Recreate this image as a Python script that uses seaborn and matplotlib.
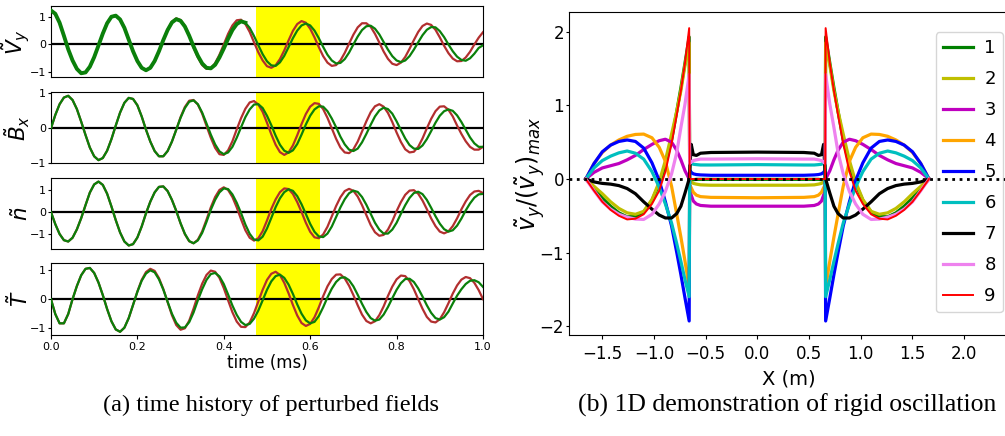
import numpy as np
import matplotlib
matplotlib.use("Agg")
import matplotlib.pyplot as plt
import seaborn as sns

# ---- (a) time history, sampled every 0.01 ms ----
time_ms = np.linspace(0.0, 1.0, 101)

vy_red = [1.25, 1.13, 0.80, 0.32, -0.18, -0.59, -0.91, -1.07, -1.04, -0.83,
          -0.47, -0.04, 0.41, 0.79, 1.03, 1.07, 0.93, 0.62, 0.18, -0.25,
          -0.62, -0.87, -0.96, -0.87, -0.62, -0.25, 0.16, 0.55, 0.84, 0.96,
          0.90, 0.68, 0.33, -0.12, -0.48, -0.76, -0.90, -0.88, -0.69, -0.38,
          0.00, 0.39, 0.70, 0.89, 0.91, 0.75, 0.46, 0.08, -0.29, -0.59,
          -0.80, -0.86, -0.77, -0.54, -0.22, 0.15, 0.50, 0.75, 0.86, 0.80,
          0.58, 0.26, -0.10, -0.43, -0.67, -0.79, -0.76, -0.59, -0.31, 0.03,
          0.36, 0.63, 0.78, 0.78, 0.65, 0.39, 0.07, -0.26, -0.53, -0.71,
          -0.76, -0.67, -0.46, -0.16, 0.16, 0.46, 0.68, 0.77, 0.72, 0.54,
          0.26, -0.05, -0.32, -0.52, -0.62, -0.61, -0.48, -0.27, 0.00, 0.25,
          0.45]
vy_green = [1.25, 1.13, 0.80, 0.32, -0.18, -0.59, -0.90, -1.06, -1.03, -0.82,
            -0.47, -0.04, 0.40, 0.78, 1.02, 1.06, 0.92, 0.61, 0.18, -0.25,
            -0.61, -0.86, -0.95, -0.86, -0.61, -0.25, 0.16, 0.53, 0.81, 0.93,
            0.87, 0.66, 0.32, -0.07, -0.42, -0.70, -0.86, -0.88, -0.75, -0.48,
            -0.15, 0.21, 0.53, 0.75, 0.85, 0.80, 0.61, 0.31, -0.03, -0.36,
            -0.62, -0.77, -0.79, -0.66, -0.42, -0.10, 0.23, 0.51, 0.70, 0.77,
            0.70, 0.51, 0.23, -0.09, -0.38, -0.59, -0.70, -0.68, -0.54, -0.30,
            0.00, 0.29, 0.53, 0.67, 0.69, 0.58, 0.37, 0.09, -0.19, -0.43,
            -0.59, -0.65, -0.59, -0.43, -0.19, 0.08, 0.34, 0.54, 0.64, 0.63,
            0.49, 0.27, 0.00, -0.25, -0.45, -0.57, -0.60, -0.51, -0.34, -0.13,
            -0.03]

bx_red = [0.00, 0.38, 0.69, 0.88, 0.93, 0.81, 0.55, 0.19, -0.19, -0.55,
          -0.80, -0.91, -0.85, -0.64, -0.31, 0.08, 0.45, 0.73, 0.87, 0.84,
          0.66, 0.34, -0.04, -0.38, -0.65, -0.80, -0.80, -0.65, -0.38, -0.04,
          0.32, 0.61, 0.79, 0.81, 0.68, 0.42, 0.07, -0.27, -0.56, -0.74,
          -0.76, -0.63, -0.37, -0.03, 0.29, 0.56, 0.74, 0.78, 0.68, 0.47,
          0.16, -0.17, -0.47, -0.68, -0.76, -0.69, -0.49, -0.20, 0.12, 0.41,
          0.62, 0.72, 0.70, 0.55, 0.30, 0.00, -0.30, -0.55, -0.69, -0.71,
          -0.60, -0.38, -0.09, 0.20, 0.46, 0.63, 0.69, 0.62, 0.44, 0.18,
          -0.12, -0.39, -0.60, -0.69, -0.67, -0.53, -0.29, 0.00, 0.27, 0.49,
          0.62, 0.63, 0.53, 0.34, 0.08, -0.16, -0.37, -0.53, -0.61, -0.61,
          -0.53]
bx_green = [0.00, 0.38, 0.69, 0.88, 0.93, 0.81, 0.55, 0.19, -0.19, -0.55,
            -0.80, -0.91, -0.85, -0.64, -0.31, 0.08, 0.45, 0.73, 0.87, 0.84,
            0.66, 0.34, -0.04, -0.38, -0.65, -0.80, -0.80, -0.65, -0.38, -0.04,
            0.30, 0.58, 0.76, 0.80, 0.69, 0.45, 0.14, -0.18, -0.46, -0.66,
            -0.74, -0.69, -0.53, -0.27, 0.03, 0.32, 0.54, 0.68, 0.69, 0.58,
            0.36, 0.09, -0.21, -0.47, -0.64, -0.70, -0.63, -0.45, -0.18, 0.11,
            0.36, 0.54, 0.63, 0.62, 0.49, 0.28, 0.03, -0.24, -0.46, -0.61,
            -0.65, -0.58, -0.40, -0.16, 0.10, 0.34, 0.51, 0.59, 0.55, 0.42,
            0.20, -0.05, -0.29, -0.48, -0.58, -0.59, -0.49, -0.31, -0.08, 0.16,
            0.36, 0.49, 0.54, 0.50, 0.37, 0.18, -0.04, -0.26, -0.43, -0.53,
            -0.53]

n_red = [0.00, -0.55, -1.00, -1.28, -1.34, -1.17, -0.79, -0.28, 0.31, 0.88,
         1.25, 1.38, 1.23, 0.83, 0.25, -0.37, -0.93, -1.34, -1.52, -1.46,
         -1.16, -0.66, -0.06, 0.47, 0.89, 1.14, 1.16, 0.95, 0.55, 0.05,
         -0.52, -1.01, -1.33, -1.42, -1.26, -0.88, -0.35, 0.21, 0.68, 1.00,
         1.12, 1.00, 0.68, 0.21, -0.33, -0.83, -1.17, -1.30, -1.19, -0.87,
         -0.39, 0.14, 0.57, 0.90, 1.07, 1.04, 0.82, 0.45, 0.00, -0.49,
         -0.90, -1.15, -1.19, -1.02, -0.67, -0.20, 0.27, 0.67, 0.95, 1.05,
         0.96, 0.70, 0.31, -0.14, -0.59, -0.92, -1.08, -1.04, -0.80, -0.42,
         0.04, 0.45, 0.78, 0.97, 0.99, 0.83, 0.52, 0.13, -0.29, -0.64,
         -0.89, -0.97, -0.88, -0.64, -0.29, 0.12, 0.48, 0.77, 0.93, 0.96,
         0.86]
n_green = [0.00, -0.55, -1.00, -1.28, -1.34, -1.17, -0.79, -0.28, 0.31, 0.88,
           1.25, 1.38, 1.23, 0.83, 0.25, -0.37, -0.93, -1.34, -1.52, -1.46,
           -1.16, -0.66, -0.06, 0.47, 0.89, 1.14, 1.16, 0.95, 0.55, 0.05,
           -0.51, -0.99, -1.32, -1.42, -1.29, -0.95, -0.45, 0.10, 0.55, 0.89,
           1.07, 1.04, 0.80, 0.42, -0.05, -0.57, -0.99, -1.25, -1.29, -1.12,
           -0.75, -0.27, 0.22, 0.62, 0.90, 1.03, 0.96, 0.72, 0.35, -0.09,
           -0.54, -0.90, -1.11, -1.14, -0.98, -0.66, -0.23, 0.21, 0.58, 0.85,
           0.97, 0.91, 0.68, 0.33, -0.08, -0.49, -0.80, -0.98, -0.98, -0.80,
           -0.49, -0.08, 0.31, 0.64, 0.86, 0.92, 0.81, 0.55, 0.19, -0.19,
           -0.53, -0.78, -0.89, -0.83, -0.62, -0.30, 0.07, 0.39, 0.65, 0.80,
           0.82]

temp_red = [0.00, -0.51, -0.83, -0.83, -0.51, 0.00, 0.45, 0.82, 1.04, 1.07,
            0.90, 0.57, 0.14, -0.34, -0.76, -1.04, -1.12, -0.98, -0.65, -0.20,
            0.26, 0.66, 0.93, 1.04, 0.97, 0.72, 0.35, -0.10, -0.55, -0.89,
            -1.05, -1.00, -0.74, -0.33, 0.13, 0.53, 0.83, 0.98, 0.94, 0.73,
            0.38, -0.04, -0.45, -0.77, -0.95, -0.96, -0.80, -0.48, -0.08, 0.32,
            0.66, 0.87, 0.94, 0.83, 0.56, 0.20, -0.20, -0.56, -0.82, -0.92,
            -0.85, -0.62, -0.28, 0.10, 0.44, 0.69, 0.84, 0.85, 0.71, 0.46,
            0.14, -0.21, -0.53, -0.75, -0.83, -0.76, -0.55, -0.25, 0.11, 0.43,
            0.68, 0.81, 0.79, 0.62, 0.34, 0.00, -0.33, -0.61, -0.77, -0.80,
            -0.69, -0.45, -0.14, 0.19, 0.47, 0.67, 0.76, 0.72, 0.56, 0.31,
            0.00]
temp_green = [0.00, -0.51, -0.83, -0.83, -0.51, 0.00, 0.45, 0.82, 1.04, 1.07,
              0.90, 0.57, 0.14, -0.34, -0.76, -1.04, -1.12, -0.98, -0.65, -0.20,
              0.25, 0.63, 0.88, 0.99, 0.92, 0.68, 0.33, -0.09, -0.50, -0.81,
              -0.98, -0.97, -0.79, -0.46, -0.04, 0.34, 0.66, 0.86, 0.90, 0.78,
              0.52, 0.16, -0.22, -0.54, -0.78, -0.89, -0.85, -0.67, -0.39, -0.04,
              0.32, 0.61, 0.79, 0.84, 0.73, 0.50, 0.18, -0.18, -0.50, -0.73,
              -0.83, -0.78, -0.58, -0.28, 0.06, 0.36, 0.59, 0.73, 0.75, 0.65,
              0.44, 0.15, -0.16, -0.44, -0.65, -0.74, -0.70, -0.53, -0.27, 0.03,
              0.32, 0.55, 0.69, 0.70, 0.59, 0.37, 0.09, -0.21, -0.47, -0.65,
              -0.70, -0.62, -0.43, -0.15, 0.12, 0.34, 0.52, 0.63, 0.65, 0.58,
              0.42]

highlight_ms = (0.475, 0.623)

# ---- (b) 1D mode shapes, left half (the right half is its mirror image) ----
mode_x_outer = [-1.66, -1.58, -1.50, -1.42, -1.34, -1.26, -1.18, -1.10,
                -1.02, -0.95, -0.89, -0.83, -0.78, -0.74, -0.70, -0.66]
mode_x_inner = [-0.655, -0.64, -0.62, -0.59, -0.55, -0.45, 0.0]

mode_1 = [0, -0.13, -0.26, -0.37, -0.46, -0.515, -0.51, -0.45, -0.29, -0.07, 0.19,
          0.53, 0.92, 1.24, 1.58, 1.93,
          -0.02, -0.01, -0.01, -0.005, -0.005, -0.005, -0.005]
mode_2 = [0, -0.10, -0.20, -0.31, -0.40, -0.46, -0.48, -0.44, -0.28, -0.04, 0.25,
          0.61, 0.92, 1.20, 1.55, 1.85,
          -0.02, -0.04, -0.06, -0.07, -0.08, -0.085, -0.085]
mode_3 = [0, 0.09, 0.15, 0.18, 0.21, 0.26, 0.32, 0.40, 0.47, 0.52, 0.54,
          0.50, 0.39, 0.26, 0.11, 0.0,
          -0.15, -0.22, -0.30, -0.34, -0.36, -0.37, -0.37]
mode_4 = [0, 0.21, 0.36, 0.46, 0.53, 0.58, 0.605, 0.61, 0.56, 0.43, 0.24,
          -0.10, -0.48, -0.79, -1.12, -1.48,
          -0.08, -0.12, -0.18, -0.22, -0.24, -0.25, -0.255]
mode_5 = [0, 0.21, 0.37, 0.46, 0.51, 0.53, 0.51, 0.42, 0.22, -0.02, -0.31,
          -0.64, -1.00, -1.30, -1.62, -1.93,
          0.12, 0.09, 0.07, 0.06, 0.055, 0.05, 0.05]
mode_6 = [0, 0.15, 0.25, 0.31, 0.355, 0.38, 0.35, 0.27, 0.10, -0.11, -0.34,
          -0.60, -0.88, -1.12, -1.37, -1.60,
          0.24, 0.22, 0.20, 0.195, 0.19, 0.19, 0.195]
mode_7 = [0, -0.04, -0.06, -0.07, -0.09, -0.13, -0.20, -0.31, -0.41, -0.49, -0.53,
          -0.53, -0.47, -0.37, -0.19, 0.0,
          0.10, 0.47, 0.33, 0.32, 0.35, 0.36, 0.365]
mode_8 = [0, -0.16, -0.31, -0.41, -0.48, -0.52, -0.545, -0.55, -0.48, -0.34, -0.17,
          0.07, 0.36, 0.70, 1.02, 1.42,
          0.21, 0.23, 0.25, 0.26, 0.27, 0.27, 0.275]
mode_9 = [0, -0.16, -0.31, -0.42, -0.50, -0.55, -0.54, -0.48, -0.34, -0.16, 0.10,
          0.48, 0.87, 1.20, 1.58, 2.05,
          0.0, 0.0, 0.0, 0.0, 0.0, 0.0, 0.0]

mode_labels = ["1", "2", "3", "4", "5", "6", "7", "8", "9"]
mode_colors = ["g", "y", "m", "orange", "b", "c", "k", "violet", "r"]


def mirror_x(half):
    # X positions of the left half plus their reflection (centre point shared)
    return list(half) + [-v for v in half[-2::-1]]


def mirror_y(half):
    # the mode shapes are even in X
    return list(half) + list(half[-2::-1])


plt.rcParams["font.family"] = ["DejaVu Sans"]
plt.rcParams["mathtext.fontset"] = "dejavusans"

fig = plt.figure(figsize=(10.05, 4.36), dpi=100)

red_c = "#b22f2f"
green_c = "#0a800a"

panels = [
    (vy_red, vy_green, r"$\tilde{V}_y$", (-1.21, 1.415), [0.0507, 0.8227, 0.4299, 0.1635], 0.45),
    (bx_red, bx_green, r"$\tilde{B}_x$", (-1.0, 1.03), [0.0507, 0.6255, 0.4299, 0.1628], None),
    (n_red, n_green, r"$\tilde{n}$", (-1.68, 1.53), [0.0507, 0.4289, 0.4299, 0.1622], None),
    (temp_red, temp_green, r"$\tilde{T}$", (-1.23, 1.23), [0.0507, 0.2317, 0.4299, 0.1644], None),
]

for i, (red, green, label, ylim, box, thick_until) in enumerate(panels):
    ax = fig.add_axes(box)
    ax.axvspan(*highlight_ms, color="#ffff00", lw=0, zorder=0)
    ax.axhline(0, color="black", lw=1.6, zorder=1)
    sns.lineplot(x=time_ms, y=red, ax=ax, color=red_c, lw=1.6, estimator=None, zorder=2)
    if thick_until is None:
        sns.lineplot(x=time_ms, y=green, ax=ax, color=green_c, lw=1.6, estimator=None, zorder=3)
    else:
        k = int(round(thick_until * 100))
        sns.lineplot(x=time_ms[:k + 1], y=green[:k + 1], ax=ax, color=green_c, lw=2.8,
                     estimator=None, zorder=3)
        sns.lineplot(x=time_ms[k:], y=green[k:], ax=ax, color=green_c, lw=1.6,
                     estimator=None, zorder=3)
    ax.set_xlim(0, 1)
    ax.set_ylim(*ylim)
    ax.set_yticks([-1, 0, 1])
    ax.tick_params(axis="y", labelsize=8, length=2, pad=1.5)
    ax.set_ylabel(label, fontsize=15.5)
    ax.yaxis.set_label_coords(-0.045, 0.5)
    ax.set_xlabel("")
    if i < 3:
        ax.tick_params(axis="x", bottom=False, labelbottom=False)
    else:
        ax.set_xticks([0.0, 0.2, 0.4, 0.6, 0.8, 1.0])
        ax.tick_params(axis="x", labelsize=8, length=3, pad=2)
        ax.set_xlabel("time (ms)", fontsize=12)
        ax.xaxis.set_label_coords(0.5, -0.27)

# right panel
axr = fig.add_axes([0.5662, 0.2317, 0.4368, 0.7401])
axr.axhline(0, color="black", lw=2, ls=":", zorder=20)
x_full = mirror_x(mode_x_outer + mode_x_inner)
mode_curves = [mode_1, mode_2, mode_3, mode_4, mode_5, mode_6, mode_7, mode_8, mode_9]
for vals, lab, col in zip(mode_curves, mode_labels, mode_colors):
    lw = 1.4 if lab == "9" else 2.3
    sns.lineplot(x=x_full, y=mirror_y(vals), ax=axr, color=col, lw=lw,
                 estimator=None, sort=False, label=lab)
axr.set_xlim(-1.822, 2.424)
axr.set_ylim(-2.12, 2.265)
axr.set_xticks([-1.5, -1.0, -0.5, 0.0, 0.5, 1.0, 1.5, 2.0])
axr.set_yticks([-2, -1, 0, 1, 2])
axr.tick_params(axis="both", labelsize=12)
axr.tick_params(axis="y", length=2, pad=1.5)
axr.tick_params(axis="x", length=3, pad=4)
axr.set_xlabel("X (m)", fontsize=14)
axr.xaxis.set_label_coords(0.5, -0.108)
axr.set_ylabel(r"$\tilde{v}_y/(\tilde{v}_y)_{max}$", fontsize=17)
axr.yaxis.set_label_coords(-0.05, 0.5)
axr.legend(loc="upper right", bbox_to_anchor=(1003 / 1005, 1 - 32 / 436),
           bbox_transform=fig.transFigure, borderaxespad=0, fontsize=13,
           handlelength=1.7, handletextpad=0.6, labelspacing=0.72)

fig.text(0.270, 0.071, "(a) time history of perturbed fields", ha="center", va="center",
         family="Liberation Serif", fontsize=17.5)
fig.text(0.783, 0.071, "(b) 1D demonstration of rigid oscillation", ha="center", va="center",
         family="Liberation Serif", fontsize=18.5)

fig.savefig("out.png", dpi=100)
